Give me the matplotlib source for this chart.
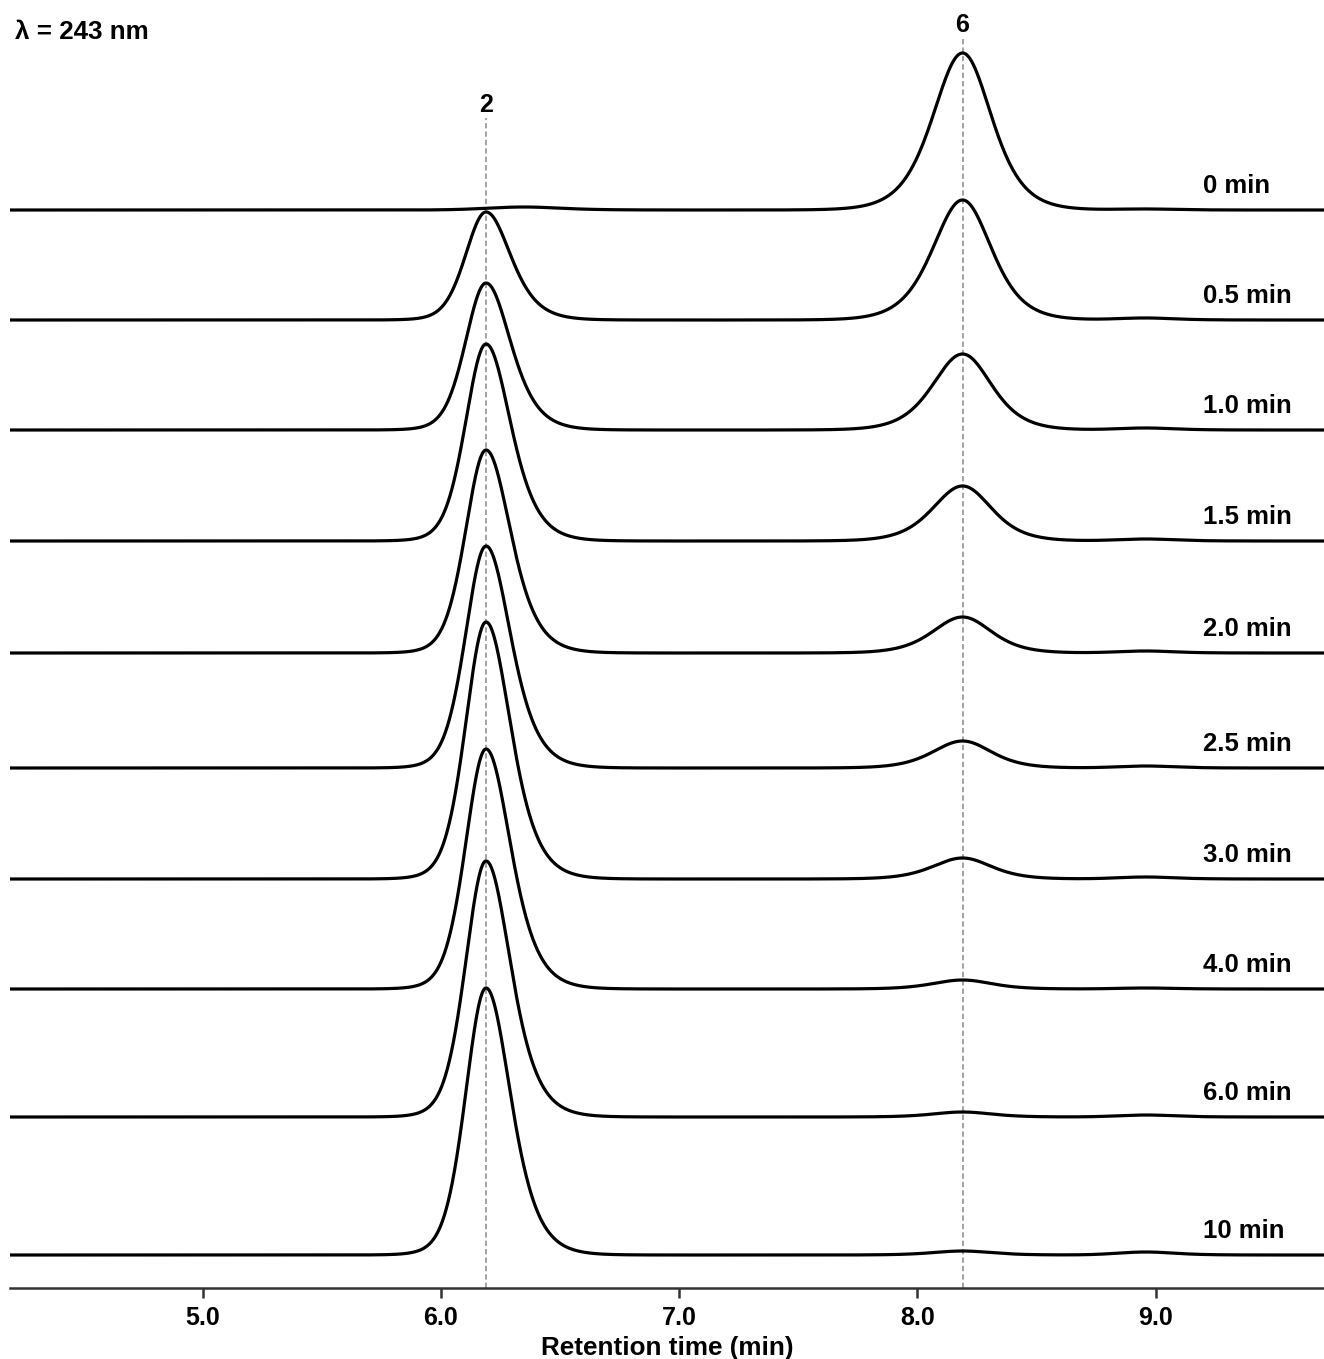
import numpy as np
import matplotlib
matplotlib.use("Agg")
import matplotlib.pyplot as plt

plt.rcParams['font.family'] = ['Liberation Sans', 'DejaVu Sans']
plt.rcParams['font.weight'] = 'bold'

# ---- data ----
trace_labels = ['0 min', '0.5 min', '1.0 min', '1.5 min', '2.0 min',
                '2.5 min', '3.0 min', '4.0 min', '6.0 min', '10 min']
# peak retention times (min)
rt_peak2 = 6.19
rt_peak6 = 8.19
# peak heights (signal units) for each trace
height_peak2 = [0, 108, 147, 197, 203, 222, 257, 240, 256, 267]
height_peak6 = [157, 120, 76, 55, 36, 27, 21, 9, 5, 4]
# minor features
height_bump_63 = [3, 0, 0, 0, 0, 0, 0, 0, 0, 0]     # small hump near 6.35 min
height_bump_895 = [1, 2, 2, 2, 2, 2, 2, 1, 2, 3]    # small hump near 8.96 min
rt_bump_63 = 6.35
rt_bump_895 = 8.96
# half widths at half maximum (min), left / right of apex
hw2_left, hw2_right = 0.101, 0.122
hw6_left, hw6_right = 0.147, 0.143
hw_bump63 = 0.18
hw_bump895 = 0.14

# ---- layout ----
baseline_px = [210, 320, 430, 541, 653, 768, 879, 989, 1117, 1255]
axis_px = 1288
W, H = 1324, 1359
xmin, xmax = 4.192, 9.707

fig = plt.figure(figsize=(W / 100, H / 100), dpi=100)
ax = fig.add_axes([10 / W, (H - axis_px) / H, 1 - 10 / W, axis_px / H])
ax.set_xlim(xmin, xmax)
ax.set_ylim(0, axis_px)

x = np.linspace(xmin, xmax, 4000)


def sech2(u):
    return 1.0 / np.cosh(u) ** 2


def peak(x, mu, h, hwl, hwr, left_mix=0.0):
    """Peak profile with given half width at half max on each side."""
    hw = np.where(x < mu, hwl, hwr)
    d = (x - mu) / hw
    s_shape = sech2(d * 0.8814)                  # sech^2 with HWHM = hw
    g_shape = np.exp(-0.5 * (d * 1.1774) ** 2)    # gaussian with HWHM = hw
    mix = np.where(x < mu, left_mix, 0.0)
    return h * ((1 - mix) * s_shape + mix * g_shape)


for i, lab in enumerate(trace_labels):
    off = axis_px - baseline_px[i]
    y = (peak(x, rt_peak2, height_peak2[i], hw2_left, hw2_right, left_mix=0.5)
         + peak(x, rt_peak6, height_peak6[i], hw6_left, hw6_right)
         + peak(x, rt_bump_63, height_bump_63[i], hw_bump63, hw_bump63, 1.0)
         + peak(x, rt_bump_895, height_bump_895[i], hw_bump895, hw_bump895, 1.0))
    ax.plot(x, y + off, color='black', lw=2.3, solid_capstyle='round', zorder=3)
    ax.text(9.199, off + 24, lab, ha='left', va='center', fontsize=18.5,
            fontweight='bold')

# dashed reference lines and peak labels
ax.plot([rt_peak2, rt_peak2], [0, axis_px - 118], color='#8a8a8a', lw=1.1,
        dashes=(3.5, 2.0), zorder=2)
ax.plot([rt_peak6, rt_peak6], [0, axis_px - 38], color='#8a8a8a', lw=1.1,
        dashes=(3.5, 2.0), zorder=2)
ax.text(rt_peak2, axis_px - 105, '2', ha='center', va='center', fontsize=18,
        fontweight='bold')
ax.text(rt_peak6, axis_px - 25, '6', ha='center', va='center', fontsize=18,
        fontweight='bold')

fig.text(15 / W, 1 - 32 / H, 'λ = 243 nm', ha='left', va='center',
         fontsize=18.7, fontweight='bold')

for s in ['left', 'right', 'top']:
    ax.spines[s].set_visible(False)
ax.spines['bottom'].set_color('#333333')
ax.spines['bottom'].set_linewidth(1.8)
ax.set_yticks([])
ax.set_xticks([5.0, 6.0, 7.0, 8.0, 9.0])
ax.set_xticklabels(['5.0', '6.0', '7.0', '8.0', '9.0'], fontsize=18,
                   fontweight='bold')
ax.tick_params(axis='x', direction='out', length=7, width=1.8,
               color='#333333', pad=6)
ax.set_xlabel('Retention time (min)', fontsize=18.8, fontweight='bold',
              labelpad=4)

fig.savefig('out.png', dpi=100)
